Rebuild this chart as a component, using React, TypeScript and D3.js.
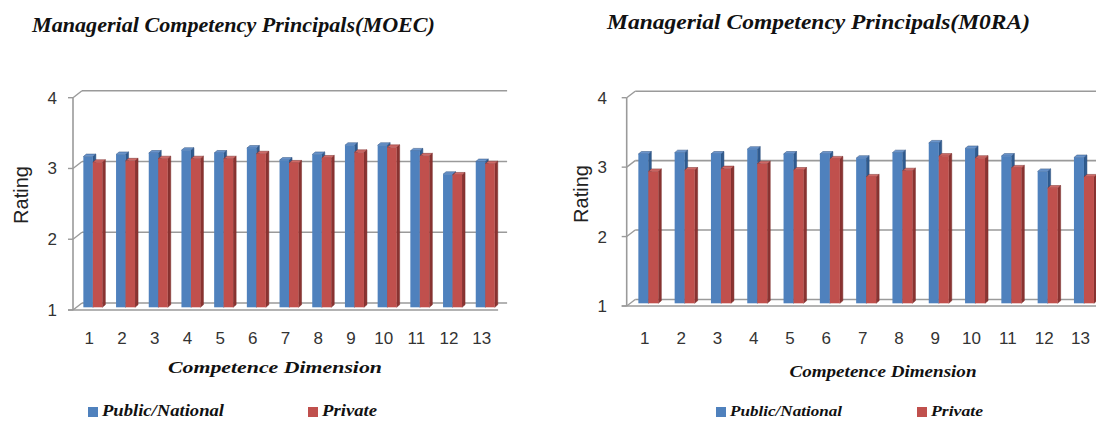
import React from "react";
import * as d3 from "d3";

const dimensions = ["1", "2", "3", "4", "5", "6", "7", "8", "9", "10", "11", "12", "13"];
const yTicks = [1, 2, 3, 4];
const seriesNames = ["Public/National", "Private"];

const moecPublic = [3.13, 3.16, 3.18, 3.22, 3.18, 3.25, 3.08, 3.16, 3.29, 3.29, 3.21, 2.88, 3.06];
const moecPrivate = [3.05, 3.07, 3.1, 3.1, 3.1, 3.17, 3.04, 3.11, 3.19, 3.26, 3.14, 2.87, 3.03];

const moraPublic = [3.15, 3.17, 3.15, 3.22, 3.15, 3.15, 3.09, 3.17, 3.31, 3.23, 3.12, 2.9, 3.1];
const moraPrivate = [2.9, 2.92, 2.94, 3.01, 2.92, 3.08, 2.82, 2.91, 3.12, 3.09, 2.95, 2.66, 2.82];

const COLORS = [
  { front: "#4F81BD", side: "#2f5b8f", top: "#6a95cc", stroke: "#2c4f7c" },
  { front: "#C0504D", side: "#8a3331", top: "#cf6a67", stroke: "#7a2e2c" },
];

const SERIF = "Liberation Serif";
const SANS = "Liberation Sans";

type Geo = {
  x0: number; bw: number; yBottom: number; yTop: number;
  dx: number; dy: number; barW: number; fx: number; fy: number; bdx: number; bdy: number;
  title: { x: number; y: number; size: number; len: number };
  rating: { x: number; y: number };
  tickLabelX: number; xLabelY: number;
  axisTitle: { x: number; y: number; size: number; len: number };
  legend: { y: number; size: number; items: { x: number; len: number }[] };
};

function Chart3D({ title, values, g }: { title: string; values: number[][]; g: Geo }) {
  const x = d3.scaleBand<string>().domain(dimensions).range([g.x0, g.x0 + dimensions.length * g.bw]).padding(0);
  const inner = d3
    .scaleBand<string>()
    .domain(seriesNames)
    .range([(g.bw - 2 * g.barW) / 2, (g.bw + 2 * g.barW) / 2])
    .padding(0);
  const y = d3.scaleLinear().domain([1, 4]).range([g.yBottom, g.yTop]);
  const xEnd = g.x0 + dimensions.length * g.bw;
  const grid = "#9a9a9a";

  const bars: React.ReactNode[] = [];
  dimensions.forEach((d, i) => {
    seriesNames.forEach((s, si) => {
      const v = values[si][i];
      const xl = (x(d) as number) + (inner(s) as number) + g.fx;
      const xr = xl + inner.bandwidth();
      const yt = y(v) + g.fy;
      const yb = y(1) + g.fy;
      const c = COLORS[si];
      bars.push(
        <g key={d + s}>
          <polygon
            points={`${xr},${yt} ${xr + g.bdx},${yt + g.bdy} ${xr + g.bdx},${yb + g.bdy} ${xr},${yb}`}
            fill={c.side}
            stroke={c.stroke}
            strokeWidth={0.5}
          />
          <polygon
            points={`${xl},${yt} ${xl + g.bdx},${yt + g.bdy} ${xr + g.bdx},${yt + g.bdy} ${xr},${yt}`}
            fill={c.top}
            stroke={c.stroke}
            strokeWidth={0.5}
          />
          <rect x={xl} y={yt} width={xr - xl} height={yb - yt} fill={c.front} />
        </g>
      );
    });
  });

  const serifStyle = { fontFamily: SERIF, fontWeight: 700, fontStyle: "italic" as const };

  return (
    <g>
      <text
        x={g.title.x}
        y={g.title.y}
        style={{ ...serifStyle, fontSize: g.title.size }}
        textLength={g.title.len}
        lengthAdjust="spacingAndGlyphs"
        fill="#111"
      >
        {title}
      </text>
      {yTicks.map((t) => (
        <line
          key={"g" + t}
          x1={g.x0 + g.dx}
          x2={xEnd + g.dx}
          y1={y(t) + g.dy}
          y2={y(t) + g.dy}
          stroke={grid}
          strokeWidth={1.6}
        />
      ))}
      {yTicks.map((t) => (
        <line
          key={"d" + t}
          x1={g.x0}
          x2={g.x0 + g.dx}
          y1={y(t)}
          y2={y(t) + g.dy}
          stroke={grid}
          strokeWidth={1.4}
        />
      ))}
      {bars}
      <line x1={g.x0} x2={g.x0} y1={y(1)} y2={y(4)} stroke={grid} strokeWidth={1.6} />
      {yTicks.map((t) => (
        <line key={"t" + t} x1={g.x0 - 5} x2={g.x0} y1={y(t)} y2={y(t)} stroke={grid} strokeWidth={1.4} />
      ))}
      <line x1={g.x0 - 5} x2={xEnd} y1={y(1)} y2={y(1)} stroke={grid} strokeWidth={1.6} />
      {yTicks.map((t) => (
        <text
          key={"yl" + t}
          x={g.tickLabelX}
          y={y(t) + 6}
          textAnchor="end"
          style={{ fontFamily: SANS, fontSize: 17 }}
          fill="#333"
        >
          {t}
        </text>
      ))}
      {dimensions.map((d) => (
        <text
          key={"xl" + d}
          x={(x(d) as number) + g.bw / 2}
          y={g.xLabelY}
          textAnchor="middle"
          style={{ fontFamily: SANS, fontSize: 17 }}
          fill="#333"
        >
          {d}
        </text>
      ))}
      <text
        transform={`translate(${g.rating.x},${g.rating.y}) rotate(-90)`}
        textAnchor="middle"
        style={{ fontFamily: SANS, fontSize: 20 }}
        fill="#222"
      >
        Rating
      </text>
      <text
        x={g.axisTitle.x}
        y={g.axisTitle.y}
        textAnchor="middle"
        style={{ ...serifStyle, fontSize: g.axisTitle.size }}
        textLength={g.axisTitle.len}
        lengthAdjust="spacingAndGlyphs"
        fill="#111"
      >
        Competence Dimension
      </text>
      {seriesNames.map((s, si) => {
        const it = g.legend.items[si];
        return (
          <g key={"lg" + s}>
            <rect x={it.x} y={g.legend.y - 9} width={10} height={10} fill={COLORS[si].front} />
            <text
              x={it.x + 14}
              y={g.legend.y}
              style={{ ...serifStyle, fontSize: g.legend.size }}
              textLength={it.len}
              lengthAdjust="spacingAndGlyphs"
              fill="#111"
            >
              {s}
            </text>
          </g>
        );
      })}
    </g>
  );
}

const leftGeo: Geo = {
  x0: 73, bw: 32.7, yBottom: 310, yTop: 97.7,
  dx: 9, dy: -7, barW: 9.5, fx: 3.5, fy: -2.7, bdx: 3, bdy: -2.5,
  title: { x: 32, y: 32, size: 20, len: 403 },
  rating: { x: 28, y: 195 },
  tickLabelX: 57, xLabelY: 344,
  axisTitle: { x: 275, y: 373, size: 17, len: 214 },
  legend: { y: 416, size: 16, items: [{ x: 88, len: 122 }, { x: 308, len: 55 }] },
};

const rightGeo: Geo = {
  x0: 626.7, bw: 36.3, yBottom: 306, yTop: 97.7,
  dx: 8.5, dy: -6.5, barW: 10, fx: 3.5, fy: -2.7, bdx: 3, bdy: -2.5,
  title: { x: 607, y: 29, size: 21, len: 423 },
  rating: { x: 588, y: 194 },
  tickLabelX: 607, xLabelY: 344,
  axisTitle: { x: 883, y: 377, size: 16, len: 187 },
  legend: { y: 416, size: 15, items: [{ x: 716, len: 112 }, { x: 917, len: 52 }] },
};

export default function App() {
  return (
    <svg
      width={1096}
      height={421}
      style={{ position: "absolute", left: 0, top: 0, background: "#fff" }}
    >
      <rect width={1096} height={421} fill="#fff" />
      <Chart3D title="Managerial Competency Principals(MOEC)" values={[moecPublic, moecPrivate]} g={leftGeo} />
      <Chart3D title="Managerial Competency Principals(M0RA)" values={[moraPublic, moraPrivate]} g={rightGeo} />
    </svg>
  );
}
